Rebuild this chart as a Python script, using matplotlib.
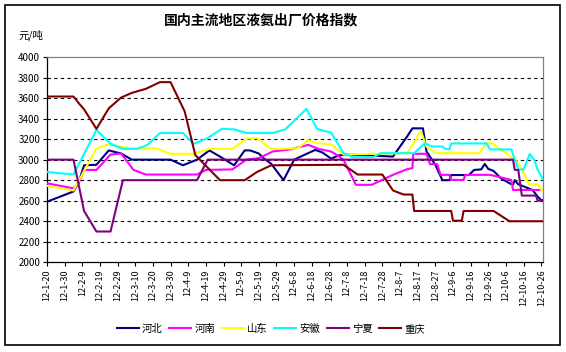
import matplotlib.pyplot as plt
from matplotlib.patches import Rectangle

plt.rcParams['font.family'] = ['Noto Sans CJK SC', 'DejaVu Sans']

title = '国内主流地区液氨出厂价格指数'
unit = '元/吨'

tick_labels = ['12-1-20', '12-1-30', '12-2-9', '12-2-19', '12-2-29', '12-3-10',
               '12-3-20', '12-3-30', '12-4-9', '12-4-19', '12-4-29', '12-5-9',
               '12-5-19', '12-5-29', '12-6-8', '12-6-18', '12-6-28', '12-7-8',
               '12-7-18', '12-7-28', '12-8-7', '12-8-17', '12-8-27', '12-9-6',
               '12-9-16', '12-9-26', '12-10-6', '12-10-16', '12-10-26']
y_ticks = [2000, 2200, 2400, 2600, 2800, 3000, 3200, 3400, 3600, 3800, 4000]

# x = days counted from 2012-1-20, values in yuan/ton
hebei_days = [0, 15, 18, 21, 28, 35, 42, 48, 70, 77, 85, 92, 98, 106, 112, 115,
              120, 123, 127, 134, 140, 145, 152, 156, 161, 165, 169, 196, 204,
              207, 213, 215, 220, 224, 228, 229, 239, 242, 246, 248, 250, 253,
              257, 262, 264, 265, 267, 270, 275, 278, 280, 281]
hebei_vals = [2590, 2690, 2780, 2945, 2950, 3090, 3060, 3000, 3000, 2945, 3000, 3090,
              3030, 2945, 3090, 3090, 3060, 3010, 2960, 2800, 3000, 3040, 3095, 3070,
              3010, 3040, 3050, 3030, 3225, 3305, 3305, 3080, 2950, 2800, 2800, 2850,
              2850, 2900, 2905, 2958, 2910, 2890, 2820, 2770, 2755, 2800, 2760, 2740,
              2705, 2640, 2605, 2605]

henan_days = [0, 15, 18, 21, 28, 36, 42, 49, 56, 85, 90, 105, 113, 120, 128, 138,
              148, 154, 161, 165, 168, 175, 184, 196, 204, 207, 207.5, 215, 217,
              221, 223, 228, 229, 236, 237, 251, 263, 264, 281]
henan_vals = [2770, 2720, 2770, 2900, 2900, 3050, 3060, 2900, 2855, 2855, 2900, 2905,
              3000, 3015, 3080, 3100, 3144, 3104, 3079, 3037, 2998, 2755, 2755, 2852,
              2907, 2917, 3057, 3057, 2956, 2956, 2852, 2852, 2803, 2803, 2852, 2852,
              2803, 2705, 2705]

shandong_days = [0, 15, 28, 35, 42, 48, 62, 70, 83, 92, 105, 113, 119, 127, 142,
                 148, 153, 161, 168, 204, 209, 211, 212, 215, 221, 245, 249, 252,
                 258, 265, 269, 273, 278, 280, 281]
shandong_vals = [2745, 2700, 3108, 3150, 3125, 3110, 3110, 3057, 3057, 3105, 3105, 3205,
                 3210, 3105, 3110, 3190, 3160, 3150, 3050, 3063, 3193, 3265, 3270, 3125,
                 3063, 3063, 3160, 3160, 3090, 3000, 2917, 2760, 2760, 2705, 2705]

anhui_days = [0, 15, 28, 36, 43, 51, 57, 64, 77, 83, 91, 99, 106, 113, 128, 135,
              147, 153, 161, 168, 173, 185, 189, 208, 214, 218, 224, 226, 228, 229,
              249, 251, 263, 267, 270, 273.5, 276, 278, 281]
anhui_vals = [2880, 2855, 3290, 3154, 3105, 3105, 3144, 3260, 3260, 3154, 3210, 3300,
              3295, 3260, 3260, 3295, 3495, 3300, 3262, 3063, 3025, 3025, 3063, 3063,
              3160, 3128, 3128, 3102, 3102, 3158, 3158, 3100, 3100, 2905, 2905, 3055,
              3000, 2900, 2810]

ningxia_days = [0, 15, 18, 21, 28, 36, 43, 85, 91, 264, 265, 267, 269, 277, 278, 281]
ningxia_vals = [3000, 3000, 2750, 2500, 2300, 2300, 2800, 2800, 3000, 3000, 2900, 2900,
                2650, 2650, 2600, 2600]

chongqing_days = [0, 15, 18, 21, 28, 35, 42, 48, 56, 64, 70, 78, 84, 98, 112, 119,
                  127, 168, 176, 190, 196, 202, 207, 208, 229, 230, 235, 236, 253,
                  262, 281]
chongqing_vals = [3615, 3615, 3550, 3490, 3300, 3500, 3605, 3650, 3690, 3755, 3755, 3470,
                  3045, 2800, 2800, 2880, 2945, 2950, 2855, 2855, 2700, 2660, 2660, 2500,
                  2500, 2405, 2405, 2500, 2500, 2400, 2400]


def draw_chart():
    fig = plt.figure(figsize=(5.66, 3.52), dpi=100)
    ax = fig.add_axes([47 / 566, 1 - 262.3 / 352, 496 / 566, 205.3 / 352])

    series = [('河北', hebei_days, hebei_vals, '#000080'),
              ('河南', henan_days, henan_vals, '#ff00ff'),
              ('山东', shandong_days, shandong_vals, '#ffff00'),
              ('安徽', anhui_days, anhui_vals, '#00ffff'),
              ('宁夏', ningxia_days, ningxia_vals, '#800080'),
              ('重庆', chongqing_days, chongqing_vals, '#800000')]

    for i, (name, days, vals, color) in enumerate(series):
        ax.plot(days, vals, color=color, linewidth=1.5, label=name, zorder=3 + i)

    ax.set_xlim(0, 281)
    ax.set_ylim(2000, 4000)
    ax.set_xticks(range(0, 10 * len(tick_labels), 10))
    ax.set_xticklabels(tick_labels, rotation=90, fontsize=6.5)
    ax.set_yticks(y_ticks)
    ax.set_yticklabels([str(v) for v in y_ticks], fontsize=7)
    ax.tick_params(axis='both', length=3, width=0.8, pad=2, colors='black')

    for v in y_ticks[1:-1]:
        ax.axhline(v, color='black', linewidth=0.8, linestyle=(0, (3, 3)), zorder=1)

    ax.spines['left'].set_color('black')
    ax.spines['bottom'].set_color('black')
    ax.spines['top'].set_color('#808080')
    ax.spines['right'].set_color('#808080')
    for s in ax.spines.values():
        s.set_linewidth(0.9)

    fig.text(261 / 566, 1 - 20 / 352, title, ha='center', va='center',
             fontsize=10, fontweight='bold')
    fig.text(31 / 566, 1 - 35 / 352, unit, ha='center', va='center', fontsize=7.5)

    fig.legend(loc='center', bbox_to_anchor=(271 / 566, 1 - 329 / 352), ncol=6,
               frameon=False, fontsize=7.5, handlelength=2.1, handletextpad=0.3,
               columnspacing=0.65)

    fig.patches.append(Rectangle((5 / 566, 1 - 345 / 352), 555 / 566, 340 / 352,
                                 transform=fig.transFigure, fill=False,
                                 edgecolor='black', linewidth=1.2))

    fig.savefig('out.png', dpi=100)


def main():
    draw_chart()


if __name__ == "__main__":
    main()
